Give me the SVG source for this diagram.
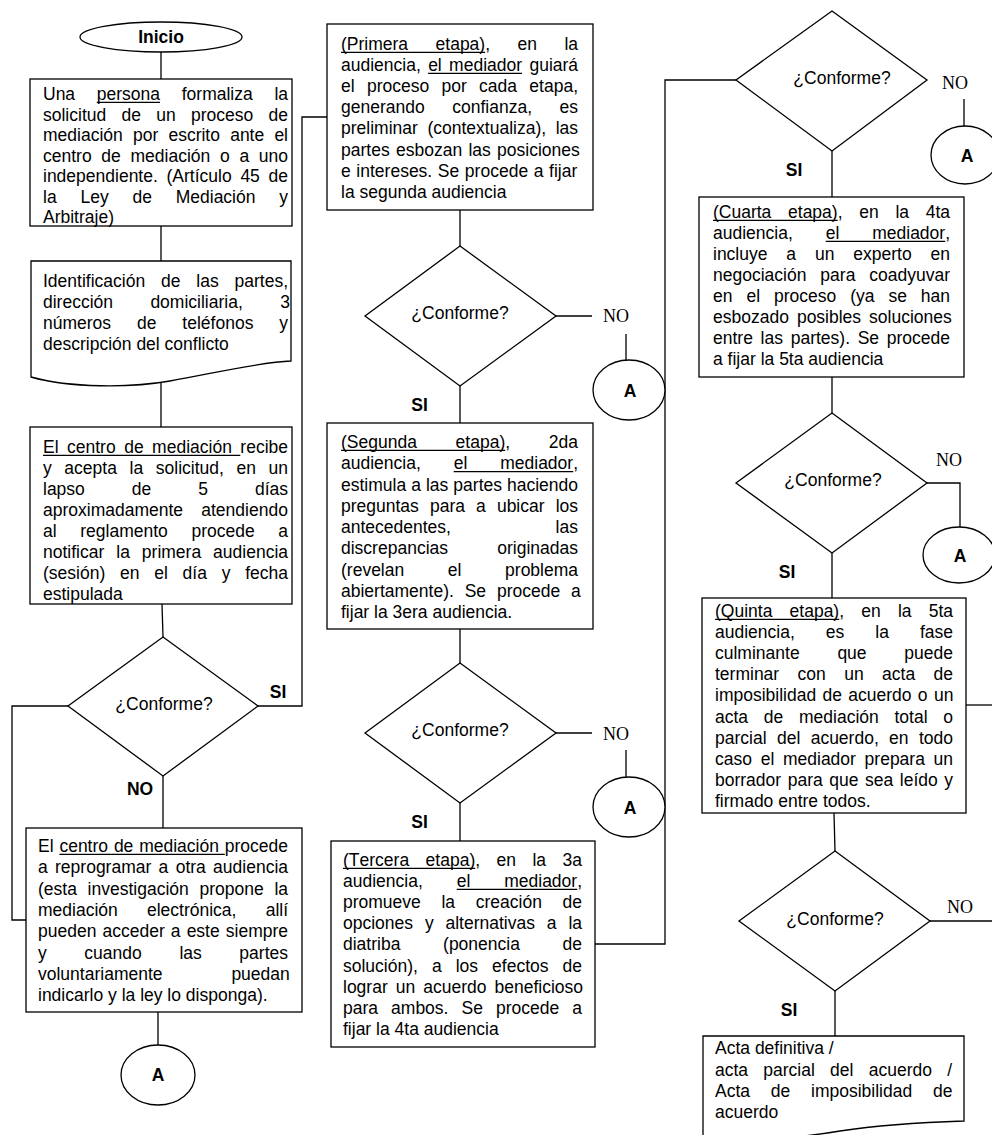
<svg xmlns="http://www.w3.org/2000/svg" width="992" height="1135" viewBox="0 0 992 1135">
<style>
.t{font-family:"Liberation Sans",Arial,sans-serif;font-size:17.5px;fill:#000;font-kerning:none}
.b{font-weight:bold}
.c{text-anchor:middle}
.sf{font-family:"Liberation Serif","Times New Roman",serif;font-size:18px;fill:#000}
.sh{fill:#fff;stroke:#000;stroke-width:1.3}
.cn{fill:none;stroke:#000;stroke-width:1.3}
.ul{stroke:#000;stroke-width:1.2}
</style>
<rect width="992" height="1135" fill="#fff"/>
<g id="connectors" class="cn">
<line x1="161" y1="52" x2="161" y2="79"/>
<line x1="161" y1="226" x2="161" y2="261"/>
<line x1="161" y1="383" x2="161" y2="427"/>
<line x1="162" y1="604" x2="163" y2="637"/>
<line x1="163" y1="776" x2="163" y2="828"/>
<polyline points="68,706 12,706 12,920 26,920"/>
<polyline points="258,706 302,706 302,117 327,117"/>
<line x1="158" y1="1012" x2="158" y2="1045"/>
<line x1="460" y1="210" x2="460" y2="246"/>
<line x1="556" y1="316" x2="592" y2="316"/>
<line x1="626" y1="334" x2="626" y2="360"/>
<line x1="460" y1="386" x2="460" y2="423"/>
<line x1="460" y1="629" x2="460" y2="663"/>
<line x1="556" y1="733" x2="592" y2="733"/>
<line x1="626" y1="750" x2="626" y2="777"/>
<line x1="460" y1="803" x2="460" y2="841"/>
<polyline points="595,944 665,944 665,80 736,80"/>
<line x1="832" y1="151" x2="832" y2="197"/>
<line x1="964" y1="99" x2="964" y2="126"/>
<line x1="832" y1="377" x2="832" y2="413"/>
<polyline points="927,483 960,483 960,527"/>
<line x1="832" y1="553" x2="832" y2="598"/>
<line x1="966" y1="705" x2="992" y2="705"/>
<line x1="834" y1="813" x2="835" y2="851"/>
<line x1="930" y1="921" x2="992" y2="921"/>
<line x1="835" y1="991" x2="835" y2="1036"/>
</g>
<g id="labels">
<text class="t b c" x="278" y="698" font-size="16.5">SI</text>
<text class="t b c" x="140" y="795" font-size="16.5">NO</text>
<text class="t b c" x="419.5" y="411" font-size="16.5">SI</text>
<text class="t b c" x="419.5" y="828" font-size="16.5">SI</text>
<text class="t b c" x="794" y="176" font-size="16.5">SI</text>
<text class="t b c" x="787" y="578" font-size="16.5">SI</text>
<text class="t b c" x="789" y="1016" font-size="16.5">SI</text>
<text class="sf" x="603" y="322">NO</text>
<text class="sf" x="603" y="740">NO</text>
<text class="sf" x="942" y="89">NO</text>
<text class="sf" x="936" y="466">NO</text>
<text class="sf" x="947" y="913">NO</text>
</g>
<g id="inicio">
<ellipse class="sh" cx="161" cy="37" rx="81" ry="15"/>
<text class="t b c" x="161" y="43" font-size="18">Inicio</text>
</g>
<g id="box1">
<rect class="sh" x="30" y="79" width="262" height="147"/>
<text class="t" x="43" y="100" word-spacing="16.83">Una persona formaliza la</text>
<text class="t" x="43" y="120.5" word-spacing="10.43">solicitud de un proceso de</text>
<text class="t" x="43" y="141" word-spacing="5.32">mediación por escrito ante el</text>
<text class="t" x="43" y="161.5" word-spacing="4.84">centro de mediación o a uno</text>
<text class="t" x="43" y="182" word-spacing="3.84">independiente. (Artículo 45 de</text>
<text class="t" x="43" y="202.5" word-spacing="18.94">la Ley de Mediación y</text>
<text class="t" x="43" y="223">Arbitraje)</text>
<line class="ul" x1="96.8" y1="102.3" x2="160" y2="102.3"/>
</g>
<g id="doc1">
<path class="sh" d="M31,261 H291 V361 C260,362 210,374 170,381 C130,388 70,388 31,377 Z"/>
<text class="t" x="43" y="287" word-spacing="10.98">Identificación de las partes,</text>
<text class="t" x="43" y="308" word-spacing="32.49">dirección domiciliaria, 3</text>
<text class="t" x="43" y="329" word-spacing="21.04">números de teléfonos y</text>
<text class="t" x="43" y="350">descripción del conflicto</text>
</g>
<g id="box3">
<rect class="sh" x="30" y="427" width="262" height="177"/>
<text class="t" x="43" y="453" word-spacing="3.62">El centro de mediación recibe</text>
<text class="t" x="43" y="474" word-spacing="7.76">y acepta la solicitud, en un</text>
<text class="t" x="43" y="495" word-spacing="42.1">lapso de 5 días</text>
<text class="t" x="43" y="516" word-spacing="13.32">aproximadamente atendiendo</text>
<text class="t" x="43" y="537" word-spacing="18.77">al reglamento procede a</text>
<text class="t" x="43" y="558" word-spacing="7.1">notificar la primera audiencia</text>
<text class="t" x="43" y="579" word-spacing="9.9">(sesión) en el día y fecha</text>
<text class="t" x="43" y="600">estipulada</text>
<line class="ul" x1="43" y1="455.3" x2="240.3" y2="455.3"/>
</g>
<g id="dec1">
<polygon class="sh" points="163,637 258,706 163,776 68,706"/>
<text class="t c" x="164" y="710">¿Conforme?</text>
</g>
<g id="box4">
<rect class="sh" x="26" y="828" width="276" height="184"/>
<text class="t" x="38" y="852" word-spacing="0.98">El centro de mediación procede</text>
<text class="t" x="38" y="873.3" word-spacing="2.44">a reprogramar a otra audiencia</text>
<text class="t" x="38" y="894.6" word-spacing="5.84">(esta investigación propone la</text>
<text class="t" x="38" y="915.9" word-spacing="24.34">mediación electrónica, allí</text>
<text class="t" x="38" y="937.2" word-spacing="1.22">pueden acceder a este siempre</text>
<text class="t" x="38" y="958.5" word-spacing="32.75">y cuando las partes</text>
<text class="t" x="38" y="979.8" word-spacing="64">voluntariamente puedan</text>
<text class="t" x="38" y="1001.1">indicarlo y la ley lo disponga).</text>
<line class="ul" x1="59.4" y1="854.3" x2="224.8" y2="854.3"/>
</g>
<g id="conA1">
<ellipse class="sh" cx="158" cy="1075" rx="37" ry="30"/>
<text class="t b c" x="158" y="1081" font-size="18">A</text>
</g>
<g id="box5">
<rect class="sh" x="327" y="24" width="266" height="186"/>
<text class="t" x="341" y="50" word-spacing="22.6">(Primera etapa), en la</text>
<text class="t" x="341" y="71.1" word-spacing="2.49">audiencia, el mediador guiará</text>
<text class="t" x="341" y="92.2" word-spacing="7.45">el proceso por cada etapa,</text>
<text class="t" x="341" y="113.3" word-spacing="22.68">generando confianza, es</text>
<text class="t" x="341" y="134.4" word-spacing="4.73">preliminar (contextualiza), las</text>
<text class="t" x="341" y="155.5" word-spacing="1.45">partes esbozan las posiciones</text>
<text class="t" x="341" y="176.6" word-spacing="0.76">e intereses. Se procede a fijar</text>
<text class="t" x="341" y="197.7">la segunda audiencia</text>
<line class="ul" x1="341" y1="52.3" x2="485.1" y2="52.3"/>
<line class="ul" x1="428.1" y1="73.4" x2="522" y2="73.4"/>
</g>
<g id="dec2">
<polygon class="sh" points="460,246 556,316 460,386 365,316"/>
<text class="t c" x="460" y="319">¿Conforme?</text>
</g>
<g id="conA2">
<ellipse class="sh" cx="629" cy="390" rx="36" ry="30"/>
<text class="t b c" x="630" y="397" font-size="18">A</text>
</g>
<g id="box6">
<rect class="sh" x="327" y="423" width="266" height="206"/>
<text class="t" x="341" y="448" word-spacing="33.86">(Segunda etapa), 2da</text>
<text class="t" x="341" y="469.25" word-spacing="28.04">audiencia, el mediador,</text>
<text class="t" x="341" y="490.5" word-spacing="0.16">estimula a las partes haciendo</text>
<text class="t" x="341" y="511.75" word-spacing="6.24">preguntas para a ubicar los</text>
<text class="t" x="341" y="533" word-spacing="99.8">antecedentes, las</text>
<text class="t" x="341" y="554.25" word-spacing="44.4">discrepancias originadas</text>
<text class="t" x="341" y="575.5" word-spacing="38.75">(revelan el problema</text>
<text class="t" x="341" y="596.75" word-spacing="5.98">abiertamente). Se procede a</text>
<text class="t" x="341" y="618">fijar la 3era audiencia.</text>
<line class="ul" x1="341" y1="450.3" x2="505.2" y2="450.3"/>
<line class="ul" x1="453.7" y1="471.55" x2="573.2" y2="471.55"/>
</g>
<g id="dec3">
<polygon class="sh" points="460,663 556,733 460,803 365,733"/>
<text class="t c" x="460" y="736">¿Conforme?</text>
</g>
<g id="conA3">
<ellipse class="sh" cx="629" cy="807" rx="36" ry="30"/>
<text class="t b c" x="630" y="814" font-size="18">A</text>
</g>
<g id="box7">
<rect class="sh" x="331" y="841" width="264" height="206"/>
<text class="t" x="343" y="866" word-spacing="11.6">(Tercera etapa), en la 3a</text>
<text class="t" x="343" y="887.1" word-spacing="29.04">audiencia, el mediador,</text>
<text class="t" x="343" y="908.2" word-spacing="15.8">promueve la creación de</text>
<text class="t" x="343" y="929.3" word-spacing="6.98">opciones y alternativas a la</text>
<text class="t" x="343" y="950.4" word-spacing="37.79">diatriba (ponencia de</text>
<text class="t" x="343" y="971.5" word-spacing="9.17">solución), a los efectos de</text>
<text class="t" x="343" y="992.6" word-spacing="3.15">lograr un acuerdo beneficioso</text>
<text class="t" x="343" y="1013.7" word-spacing="8.19">para ambos. Se procede a</text>
<text class="t" x="343" y="1034.8">fijar la 4ta audiencia</text>
<line class="ul" x1="343" y1="868.3" x2="475.2" y2="868.3"/>
<line class="ul" x1="456.7" y1="889.4" x2="577.2" y2="889.4"/>
</g>
<g id="dec4">
<polygon class="sh" points="832,11 927,80 832,151 736,80"/>
<text class="t c" x="842" y="84">¿Conforme?</text>
</g>
<g id="conA4">
<ellipse class="sh" cx="965" cy="155" rx="34" ry="29"/>
<text class="t b c" x="967" y="162" font-size="18">A</text>
</g>
<g id="box8">
<rect class="sh" x="699" y="197" width="265" height="180"/>
<text class="t" x="713" y="218" word-spacing="11.83">(Cuarta etapa), en la 4ta</text>
<text class="t" x="713" y="239" word-spacing="28.04">audiencia, el mediador,</text>
<text class="t" x="713" y="260" word-spacing="14.02">incluye a un experto en</text>
<text class="t" x="713" y="281" word-spacing="9.07">negociación para coadyuvar</text>
<text class="t" x="713" y="302" word-spacing="9.08">en el proceso (ya se han</text>
<text class="t" x="713" y="323" word-spacing="3.14">esbozado posibles soluciones</text>
<text class="t" x="713" y="344" word-spacing="2.84">entre las partes). Se procede</text>
<text class="t" x="713" y="365">a fijar la 5ta audiencia</text>
<line class="ul" x1="713" y1="220.3" x2="837.7" y2="220.3"/>
<line class="ul" x1="825.7" y1="241.3" x2="945.2" y2="241.3"/>
</g>
<g id="dec5">
<polygon class="sh" points="832,413 927,483 832,553 736,483"/>
<text class="t c" x="833" y="486">¿Conforme?</text>
</g>
<g id="conA5">
<ellipse class="sh" cx="959" cy="555" rx="36" ry="28"/>
<text class="t b c" x="960" y="562" font-size="18">A</text>
</g>
<g id="box9">
<rect class="sh" x="702" y="598" width="264" height="215"/>
<text class="t" x="715" y="617" word-spacing="12.32">(Quinta etapa), en la 5ta</text>
<text class="t" x="715" y="638.1" word-spacing="26.16">audiencia, es la fase</text>
<text class="t" x="715" y="659.2" word-spacing="32.9">culminante que puede</text>
<text class="t" x="715" y="680.3" word-spacing="13.54">terminar con un acta de</text>
<text class="t" x="715" y="701.4" word-spacing="1.47">imposibilidad de acuerdo o un</text>
<text class="t" x="715" y="722.5" word-spacing="10.86">acta de mediación total o</text>
<text class="t" x="715" y="743.6" word-spacing="5.51">parcial del acuerdo, en todo</text>
<text class="t" x="715" y="764.7" word-spacing="3.82">caso el mediador prepara un</text>
<text class="t" x="715" y="785.8" word-spacing="1.69">borrador para que sea leído y</text>
<text class="t" x="715" y="806.9">firmado entre todos.</text>
<line class="ul" x1="715" y1="619.3" x2="839.2" y2="619.3"/>
</g>
<g id="dec6">
<polygon class="sh" points="835,851 930,921 835,991 739,921"/>
<text class="t c" x="835" y="925">¿Conforme?</text>
</g>
<g id="doc2">
<path class="sh" d="M703,1036 H964 V1121 C935,1122 880,1125 840,1131 C800,1138 740,1142 703,1138 Z"/>
<text class="t" x="715" y="1054">Acta definitiva /</text>
<text class="t" x="715" y="1075.5" word-spacing="10.37">acta parcial del acuerdo /</text>
<text class="t" x="715" y="1097" word-spacing="15.9">Acta de imposibilidad de</text>
<text class="t" x="715" y="1118">acuerdo</text>
</g>
</svg>
